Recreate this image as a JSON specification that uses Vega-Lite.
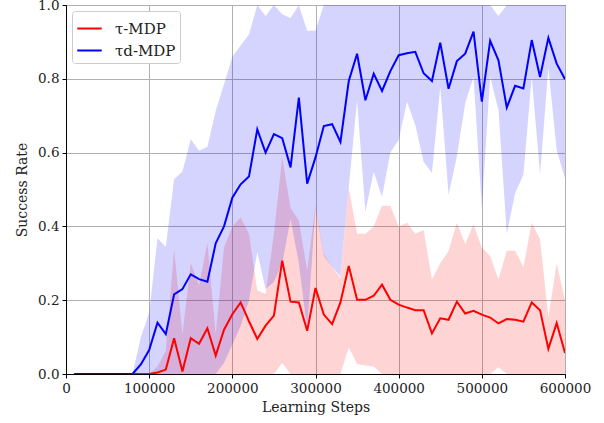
{
  "$schema": "https://vega.github.io/schema/vega-lite/v6.json",
  "width": 499,
  "height": 369,
  "autosize": {"type": "none"},
  "padding": {"left": 66, "top": 5, "right": 39, "bottom": 49},
  "background": "white",
  "config": {
    "font": "DejaVu Serif",
    "view": {"stroke": "black", "strokeWidth": 1},
    "axis": {
      "labelFont": "DejaVu Serif", "titleFont": "DejaVu Serif",
      "labelFontSize": 13.5, "titleFontSize": 14, "titleFontWeight": "normal",
      "labelColor": "#222222", "titleColor": "#222222",
      "domainColor": "black", "tickColor": "black", "tickSize": 4,
      "gridColor": "#b0b0b0", "gridWidth": 1, "gridOpacity": 1
    }
  },
  "data": {"values": [
{"s":10000,"g":"τ-MDP","m":0,"lo":0,"hi":0},
{"s":20000,"g":"τ-MDP","m":0,"lo":0,"hi":0},
{"s":30000,"g":"τ-MDP","m":0,"lo":0,"hi":0},
{"s":40000,"g":"τ-MDP","m":0,"lo":0,"hi":0},
{"s":50000,"g":"τ-MDP","m":0,"lo":0,"hi":0},
{"s":60000,"g":"τ-MDP","m":0,"lo":0,"hi":0},
{"s":70000,"g":"τ-MDP","m":0,"lo":0,"hi":0},
{"s":80000,"g":"τ-MDP","m":0,"lo":0,"hi":0},
{"s":90000,"g":"τ-MDP","m":0,"lo":0,"hi":0},
{"s":100000,"g":"τ-MDP","m":0,"lo":0,"hi":0},
{"s":110000,"g":"τ-MDP","m":0.004,"lo":0,"hi":0.02},
{"s":120000,"g":"τ-MDP","m":0.012,"lo":0,"hi":0.063},
{"s":130000,"g":"τ-MDP","m":0.097,"lo":0,"hi":0.338},
{"s":140000,"g":"τ-MDP","m":0.007,"lo":0,"hi":0.108},
{"s":150000,"g":"τ-MDP","m":0.097,"lo":0,"hi":0.30},
{"s":160000,"g":"τ-MDP","m":0.082,"lo":0,"hi":0.24},
{"s":170000,"g":"τ-MDP","m":0.124,"lo":0,"hi":0.356},
{"s":180000,"g":"τ-MDP","m":0.05,"lo":0,"hi":0.108},
{"s":190000,"g":"τ-MDP","m":0.12,"lo":0,"hi":0.343},
{"s":200000,"g":"τ-MDP","m":0.162,"lo":0,"hi":0.40},
{"s":210000,"g":"τ-MDP","m":0.194,"lo":0,"hi":0.424},
{"s":220000,"g":"τ-MDP","m":0.143,"lo":0,"hi":0.38},
{"s":230000,"g":"τ-MDP","m":0.095,"lo":0,"hi":0.226},
{"s":240000,"g":"τ-MDP","m":0.131,"lo":0,"hi":0.217},
{"s":250000,"g":"τ-MDP","m":0.158,"lo":0,"hi":0.38},
{"s":260000,"g":"τ-MDP","m":0.307,"lo":0.03,"hi":0.587},
{"s":270000,"g":"τ-MDP","m":0.196,"lo":0,"hi":0.45},
{"s":280000,"g":"τ-MDP","m":0.194,"lo":0,"hi":0.415},
{"s":290000,"g":"τ-MDP","m":0.117,"lo":0,"hi":0.28},
{"s":300000,"g":"τ-MDP","m":0.233,"lo":0,"hi":0.456},
{"s":310000,"g":"τ-MDP","m":0.161,"lo":0,"hi":0.325},
{"s":320000,"g":"τ-MDP","m":0.135,"lo":0,"hi":0.29},
{"s":330000,"g":"τ-MDP","m":0.194,"lo":0,"hi":0.26},
{"s":340000,"g":"τ-MDP","m":0.293,"lo":0.072,"hi":0.505},
{"s":350000,"g":"τ-MDP","m":0.201,"lo":0.027,"hi":0.38},
{"s":360000,"g":"τ-MDP","m":0.201,"lo":0.023,"hi":0.38},
{"s":370000,"g":"τ-MDP","m":0.212,"lo":0.02,"hi":0.40},
{"s":380000,"g":"τ-MDP","m":0.242,"lo":0,"hi":0.456},
{"s":390000,"g":"τ-MDP","m":0.201,"lo":0,"hi":0.456},
{"s":400000,"g":"τ-MDP","m":0.188,"lo":0,"hi":0.40},
{"s":410000,"g":"τ-MDP","m":0.18,"lo":0,"hi":0.41},
{"s":420000,"g":"τ-MDP","m":0.173,"lo":0,"hi":0.38},
{"s":430000,"g":"τ-MDP","m":0.173,"lo":0,"hi":0.39},
{"s":440000,"g":"τ-MDP","m":0.11,"lo":0,"hi":0.257},
{"s":450000,"g":"τ-MDP","m":0.151,"lo":0,"hi":0.30},
{"s":460000,"g":"τ-MDP","m":0.147,"lo":0,"hi":0.334},
{"s":470000,"g":"τ-MDP","m":0.196,"lo":0,"hi":0.41},
{"s":480000,"g":"τ-MDP","m":0.164,"lo":0,"hi":0.352},
{"s":490000,"g":"τ-MDP","m":0.171,"lo":0,"hi":0.406},
{"s":500000,"g":"τ-MDP","m":0.161,"lo":0,"hi":0.343},
{"s":510000,"g":"τ-MDP","m":0.153,"lo":0,"hi":0.32},
{"s":520000,"g":"τ-MDP","m":0.137,"lo":0.018,"hi":0.257},
{"s":530000,"g":"τ-MDP","m":0.149,"lo":0,"hi":0.334},
{"s":540000,"g":"τ-MDP","m":0.147,"lo":0,"hi":0.334},
{"s":550000,"g":"τ-MDP","m":0.142,"lo":0,"hi":0.29},
{"s":560000,"g":"τ-MDP","m":0.194,"lo":0,"hi":0.41},
{"s":570000,"g":"τ-MDP","m":0.173,"lo":0,"hi":0.365},
{"s":580000,"g":"τ-MDP","m":0.068,"lo":0,"hi":0.153},
{"s":590000,"g":"τ-MDP","m":0.138,"lo":0,"hi":0.30},
{"s":600000,"g":"τ-MDP","m":0.057,"lo":0,"hi":0.2},
{"s":10000,"g":"τd-MDP","m":0,"lo":0,"hi":0},
{"s":20000,"g":"τd-MDP","m":0,"lo":0,"hi":0},
{"s":30000,"g":"τd-MDP","m":0,"lo":0,"hi":0},
{"s":40000,"g":"τd-MDP","m":0,"lo":0,"hi":0},
{"s":50000,"g":"τd-MDP","m":0,"lo":0,"hi":0},
{"s":60000,"g":"τd-MDP","m":0,"lo":0,"hi":0},
{"s":70000,"g":"τd-MDP","m":0,"lo":0,"hi":0},
{"s":80000,"g":"τd-MDP","m":0,"lo":0,"hi":0},
{"s":90000,"g":"τd-MDP","m":0.026,"lo":0,"hi":0.10},
{"s":100000,"g":"τd-MDP","m":0.065,"lo":0,"hi":0.165},
{"s":110000,"g":"τd-MDP","m":0.139,"lo":0,"hi":0.368},
{"s":120000,"g":"τd-MDP","m":0.108,"lo":0,"hi":0.345},
{"s":130000,"g":"τd-MDP","m":0.216,"lo":0,"hi":0.528},
{"s":140000,"g":"τd-MDP","m":0.23,"lo":0,"hi":0.549},
{"s":150000,"g":"τd-MDP","m":0.27,"lo":0,"hi":0.636},
{"s":160000,"g":"τd-MDP","m":0.257,"lo":0,"hi":0.605},
{"s":170000,"g":"τd-MDP","m":0.25,"lo":0,"hi":0.616},
{"s":180000,"g":"τd-MDP","m":0.354,"lo":0,"hi":0.713},
{"s":190000,"g":"τd-MDP","m":0.40,"lo":0.03,"hi":0.785},
{"s":200000,"g":"τd-MDP","m":0.478,"lo":0.08,"hi":0.86},
{"s":210000,"g":"τd-MDP","m":0.514,"lo":0.13,"hi":0.89},
{"s":220000,"g":"τd-MDP","m":0.535,"lo":0.2,"hi":0.92},
{"s":230000,"g":"τd-MDP","m":0.663,"lo":0.33,"hi":1.0},
{"s":240000,"g":"τd-MDP","m":0.60,"lo":0.23,"hi":0.97},
{"s":250000,"g":"τd-MDP","m":0.65,"lo":0.25,"hi":1.0},
{"s":260000,"g":"τd-MDP","m":0.639,"lo":0.30,"hi":0.975},
{"s":270000,"g":"τd-MDP","m":0.56,"lo":0.42,"hi":0.965},
{"s":280000,"g":"τd-MDP","m":0.749,"lo":0.30,"hi":1.0},
{"s":290000,"g":"τd-MDP","m":0.516,"lo":0.12,"hi":0.93},
{"s":300000,"g":"τd-MDP","m":0.587,"lo":0.45,"hi":0.93},
{"s":310000,"g":"τd-MDP","m":0.672,"lo":0.32,"hi":1.0},
{"s":320000,"g":"τd-MDP","m":0.677,"lo":0.29,"hi":1.0},
{"s":330000,"g":"τd-MDP","m":0.629,"lo":0.264,"hi":1.0},
{"s":340000,"g":"τd-MDP","m":0.794,"lo":0.507,"hi":1.0},
{"s":350000,"g":"τd-MDP","m":0.868,"lo":0.74,"hi":1.0},
{"s":360000,"g":"τd-MDP","m":0.742,"lo":0.44,"hi":1.0},
{"s":370000,"g":"τd-MDP","m":0.814,"lo":0.548,"hi":1.0},
{"s":380000,"g":"τd-MDP","m":0.767,"lo":0.48,"hi":1.0},
{"s":390000,"g":"τd-MDP","m":0.821,"lo":0.60,"hi":1.0},
{"s":400000,"g":"τd-MDP","m":0.864,"lo":0.634,"hi":1.0},
{"s":410000,"g":"τd-MDP","m":0.869,"lo":0.738,"hi":1.0},
{"s":420000,"g":"τd-MDP","m":0.873,"lo":0.675,"hi":1.0},
{"s":430000,"g":"τd-MDP","m":0.815,"lo":0.575,"hi":1.0},
{"s":440000,"g":"τd-MDP","m":0.794,"lo":0.545,"hi":1.0},
{"s":450000,"g":"τd-MDP","m":0.898,"lo":0.778,"hi":1.0},
{"s":460000,"g":"τd-MDP","m":0.773,"lo":0.485,"hi":1.0},
{"s":470000,"g":"τd-MDP","m":0.848,"lo":0.59,"hi":1.0},
{"s":480000,"g":"τd-MDP","m":0.868,"lo":0.734,"hi":1.0},
{"s":490000,"g":"τd-MDP","m":0.928,"lo":0.805,"hi":1.0},
{"s":500000,"g":"τd-MDP","m":0.738,"lo":0.45,"hi":1.0},
{"s":510000,"g":"τd-MDP","m":0.903,"lo":0.805,"hi":1.0},
{"s":520000,"g":"τd-MDP","m":0.85,"lo":0.715,"hi":0.97},
{"s":530000,"g":"τd-MDP","m":0.722,"lo":0.38,"hi":1.0},
{"s":540000,"g":"τd-MDP","m":0.781,"lo":0.49,"hi":1.0},
{"s":550000,"g":"τd-MDP","m":0.774,"lo":0.54,"hi":1.0},
{"s":560000,"g":"τd-MDP","m":0.905,"lo":0.805,"hi":1.0},
{"s":570000,"g":"τd-MDP","m":0.805,"lo":0.54,"hi":1.0},
{"s":580000,"g":"τd-MDP","m":0.911,"lo":0.83,"hi":1.0},
{"s":590000,"g":"τd-MDP","m":0.841,"lo":0.607,"hi":1.0},
{"s":600000,"g":"τd-MDP","m":0.799,"lo":0.53,"hi":1.0}
  ]},
  "encoding": {
    "x": {"field": "s", "type": "quantitative",
      "scale": {"domain": [0, 600000], "nice": false, "zero": false},
      "axis": {"title": "Learning Steps", "values": [0,100000,200000,300000,400000,500000,600000], "format": "d", "labelFlush": false, "labelPadding": 3, "titlePadding": 6}},
    "color": {"field": "g", "type": "nominal",
      "scale": {"domain": ["τ-MDP", "τd-MDP"], "range": ["#ff0000", "#0000ff"]},
      "legend": {"title": null, "orient": "top-left", "offset": 6,
        "symbolType": "stroke", "symbolSize": 600, "symbolStrokeWidth": 2,
        "symbolOpacity": 1,
        "labelFont": "DejaVu Serif", "labelFontSize": 15, "labelColor": "#222222",
        "fillColor": "white", "strokeColor": "#cccccc", "cornerRadius": 3,
        "padding": 4, "rowPadding": -2, "labelOffset": 12}}
  },
  "layer": [
    {
      "mark": {"type": "area", "opacity": 0.17, "clip": true},
      "encoding": {
        "y": {"field": "lo", "type": "quantitative",
          "scale": {"domain": [0, 1], "nice": false},
          "axis": {"title": "Success Rate", "values": [0,0.2,0.4,0.6,0.8,1.0], "format": ".1f", "labelFlush": false, "labelPadding": 3, "titlePadding": 8}},
        "y2": {"field": "hi"}
      }
    },
    {
      "mark": {"type": "line", "strokeWidth": 2, "clip": true},
      "encoding": {
        "y": {"field": "m", "type": "quantitative"}
      }
    }
  ]
}
